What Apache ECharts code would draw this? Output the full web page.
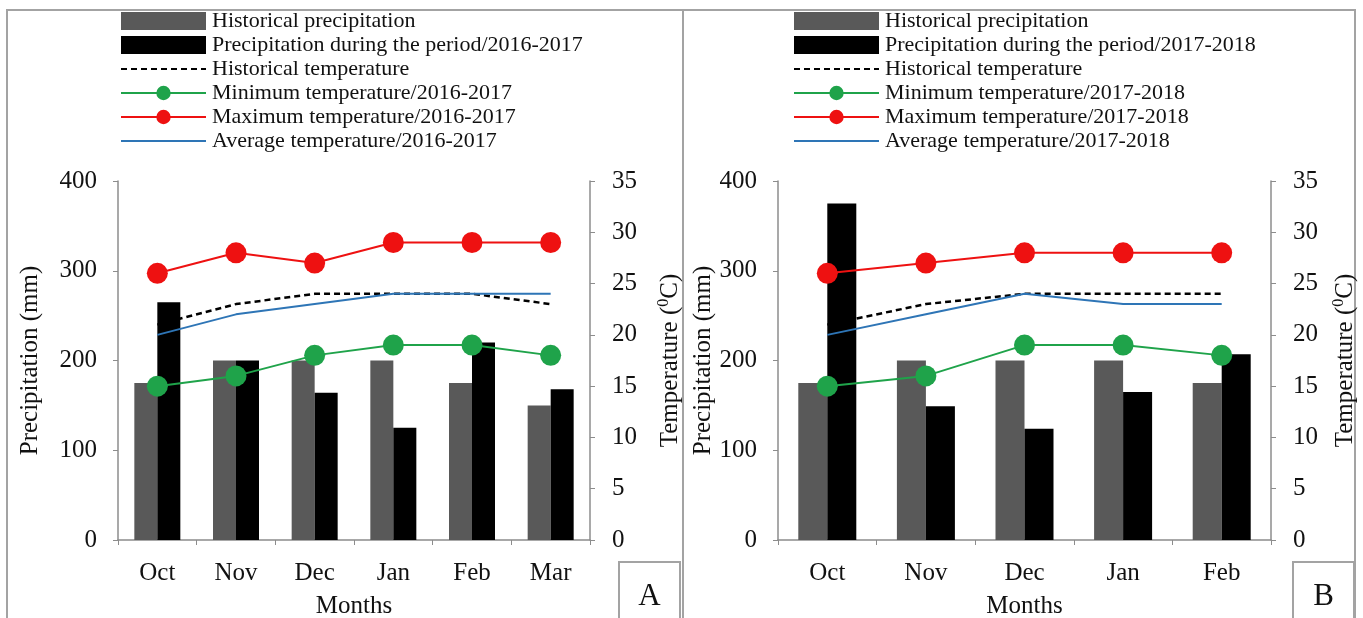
<!DOCTYPE html>
<html>
<head>
<meta charset="utf-8">
<script src="https://cdn.jsdelivr.net/npm/echarts@6/dist/echarts.min.js"></script>
<style>
html,body{margin:0;padding:0;background:#fff;overflow:hidden;}
#chart{width:1363px;height:618px;}
</style>
</head>
<body>
<div id="chart"></div>
<script>
// ---- Data ----
const monthsA = ['Oct', 'Nov', 'Dec', 'Jan', 'Feb', 'Mar'];
const histPrecipA = [175, 200, 200, 200, 175, 150];
const periodPrecipA = [265, 200, 164, 125, 220, 168];
const histTempA = [21, 23, 24, 24, 24, 23];
const minTempA = [15, 16, 18, 19, 19, 18];
const maxTempA = [26, 28, 27, 29, 29, 29];
const avgTempA = [20, 22, 23, 24, 24, 24];

const monthsB = ['Oct', 'Nov', 'Dec', 'Jan', 'Feb'];
const histPrecipB = [175, 200, 200, 200, 175];
const periodPrecipB = [375, 149, 124, 165, 207];
const histTempB = [21, 23, 24, 24, 24];
const minTempB = [15, 16, 19, 19, 18];
const maxTempB = [26, 27, 28, 28, 28];
const avgTempB = [20, 22, 24, 23, 23];

const precipTicks = [0, 100, 200, 300, 400];
const tempTicks = [0, 5, 10, 15, 20, 25, 30, 35];

const periodA = '2016-2017';
const periodB = '2017-2018';

// ---- Styles ----
const FONT = "'Liberation Serif','Times New Roman',serif";
const FS = 25;
const AX = '#8c8c8c';
const C_HIST = '#595959', C_PER = '#000000', C_MIN = '#1fa34a', C_MAX = '#ee1111', C_AVG = '#2e75b6';

function names(p) {
  return ['Historical precipitation', 'Precipitation during the period/' + p, 'Historical temperature',
          'Minimum temperature/' + p, 'Maximum temperature/' + p, 'Average temperature/' + p];
}

function xAxis(grid, cats) {
  return {
    type: 'category', gridIndex: grid, data: cats, boundaryGap: true,
    axisLine: {lineStyle: {color: AX, width: 1.5}},
    axisTick: {show: true, length: 5, lineStyle: {color: AX}},
    axisLabel: {color: '#111', fontFamily: FONT, fontSize: FS, margin: 21},
    name: 'Months', nameLocation: 'middle', nameGap: 54,
    nameTextStyle: {color: '#111', fontFamily: FONT, fontSize: FS}
  };
}
function yPrecip(grid, gap) {
  return {
    type: 'value', gridIndex: grid, position: 'left', min: precipTicks[0], max: precipTicks[precipTicks.length - 1], interval: 100,
    splitLine: {show: false},
    axisLine: {show: true, lineStyle: {color: AX, width: 1.5}},
    axisTick: {show: true, length: 5, lineStyle: {color: AX}},
    axisLabel: {color: '#111', fontFamily: FONT, fontSize: FS, margin: 21},
    name: 'Precipitation (mm)', nameLocation: 'middle', nameGap: gap, nameRotate: 90,
    nameTextStyle: {color: '#111', fontFamily: FONT, fontSize: FS}
  };
}
function yTemp(grid, gap) {
  return {
    type: 'value', gridIndex: grid, position: 'right', min: tempTicks[0], max: tempTicks[tempTicks.length - 1], interval: 5,
    splitLine: {show: false},
    axisLine: {show: true, lineStyle: {color: AX, width: 1.5}},
    axisTick: {show: true, length: 5, lineStyle: {color: AX}},
    axisLabel: {color: '#111', fontFamily: FONT, fontSize: FS, margin: 22},
    name: '{t|Temperature (}{s|0}{t|C)}', nameLocation: 'middle', nameGap: gap, nameRotate: 90,
    nameTextStyle: {
      color: '#111', fontFamily: FONT, fontSize: FS,
      rich: {
        t: {fontFamily: FONT, fontSize: FS, color: '#111', lineHeight: 27, verticalAlign: 'bottom'},
        s: {fontFamily: FONT, fontSize: 16, color: '#111', lineHeight: 27, verticalAlign: 'top'}
      }
    }
  };
}

function seriesFor(idx, p, hp, pp, ht, mn, mx, av, bw) {
  const n = names(p);
  const xi = idx, yp = idx * 2, yt = idx * 2 + 1;
  return [
    {name: n[0], type: 'bar', xAxisIndex: xi, yAxisIndex: yp, data: hp, barWidth: bw, barGap: '0%', itemStyle: {color: C_HIST}, z: 2},
    {name: n[1], type: 'bar', xAxisIndex: xi, yAxisIndex: yp, data: pp, barWidth: bw, barGap: '0%', itemStyle: {color: C_PER}, z: 2},
    {name: n[2], type: 'line', xAxisIndex: xi, yAxisIndex: yt, data: ht, symbol: 'none', lineStyle: {color: '#000', width: 2.5, type: [6, 4]}, itemStyle: {color: '#000'}, z: 3},
    {name: n[3], type: 'line', xAxisIndex: xi, yAxisIndex: yt, data: mn, symbol: 'circle', symbolSize: 21, lineStyle: {color: C_MIN, width: 2}, itemStyle: {color: C_MIN}, z: 4},
    {name: n[4], type: 'line', xAxisIndex: xi, yAxisIndex: yt, data: mx, symbol: 'circle', symbolSize: 21, lineStyle: {color: C_MAX, width: 2}, itemStyle: {color: C_MAX}, z: 4},
    {name: n[5], type: 'line', xAxisIndex: xi, yAxisIndex: yt, data: av, symbol: 'none', lineStyle: {color: C_AVG, width: 2}, itemStyle: {color: C_AVG}, z: 3}
  ];
}

function legend(left, p) {
  const n = names(p);
  return {
    orient: 'vertical', left: left, top: 5, itemWidth: 85, itemHeight: 18, itemGap: 2,
    selectedMode: false,
    data: [
      {name: n[0], icon: 'rect', itemStyle: {color: C_HIST}},
      {name: n[1], icon: 'rect', itemStyle: {color: C_PER}},
      {name: n[2], itemStyle: {opacity: 0}},
      {name: n[3]},
      {name: n[4]},
      {name: n[5], itemStyle: {opacity: 0}}
    ],
    textStyle: {color: '#111', fontFamily: FONT, fontSize: 22, lineHeight: 22, padding: [0, 0, 0, 1]}
  };
}

function frameRect(x, w) {
  return {type: 'rect', shape: {x: x, y: 10, width: w, height: 640}, style: {fill: 'none', stroke: '#a3a3a3', lineWidth: 2}, silent: true};
}
function letterBox(x, letter) {
  return [
    {type: 'rect', shape: {x: x, y: 562, width: 61, height: 80}, style: {fill: '#fff', stroke: '#a3a3a3', lineWidth: 2}, silent: true, z: 10},
    {type: 'text', x: x + 30.5, y: 597, style: {text: letter, font: '31px ' + FONT, fill: '#111', textAlign: 'center', textVerticalAlign: 'middle'}, silent: true, z: 11}
  ];
}

const chart = echarts.init(document.getElementById('chart'));
chart.setOption({
  backgroundColor: '#fff',
  animation: false,
  legend: [legend(115, periodA), legend(788, periodB)],
  grid: [
    {left: 118, width: 472, top: 181, height: 359, containLabel: false, outerBoundsMode: 'none'},
    {left: 778, width: 493, top: 181, height: 359, containLabel: false, outerBoundsMode: 'none'}
  ],
  xAxis: [xAxis(0, monthsA), xAxis(1, monthsB)],
  yAxis: [yPrecip(0, 75), yTemp(0, 66), yPrecip(1, 51), yTemp(1, 60)],
  series: [].concat(
    seriesFor(0, periodA, histPrecipA, periodPrecipA, histTempA, minTempA, maxTempA, avgTempA, 23),
    seriesFor(1, periodB, histPrecipB, periodPrecipB, histTempB, minTempB, maxTempB, avgTempB, 29)
  ),
  graphic: [frameRect(7, 676), frameRect(683, 672)].concat(letterBox(619, 'A'), letterBox(1293, 'B'))
});
</script>
</body>
</html>
